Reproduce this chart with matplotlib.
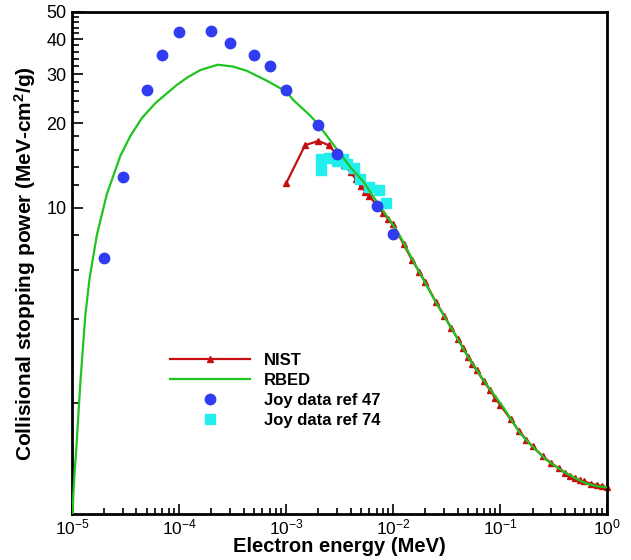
import matplotlib
matplotlib.use("Agg")
import matplotlib.pyplot as plt
from matplotlib.ticker import FixedLocator, NullFormatter, FixedFormatter

plt.rcParams["font.family"] = ["Liberation Sans", "DejaVu Sans"]
plt.rcParams["mathtext.fontset"] = "custom"
plt.rcParams["mathtext.rm"] = "Liberation Sans"
plt.rcParams["mathtext.bf"] = "Liberation Sans:bold"
plt.rcParams["mathtext.it"] = "Liberation Sans:italic"

# RBED model curve (energy in MeV, stopping power in MeV cm^2/g)
rbed_energy = [1.01e-5, 1.03e-5, 1.06e-5, 1.10e-5, 1.15e-5, 1.20e-5, 1.33e-5,
               1.46e-5, 1.71e-5, 2.12e-5, 2.83e-5, 3.5e-5, 4.5e-5, 6e-5, 7.7e-5,
               9.5e-5, 1.2e-4, 1.58e-4, 2.3e-4, 3.2e-4, 4.3e-4, 6.6e-4, 1.0e-3,
               1.17e-3, 1.68e-3, 2.0e-3, 3.0e-3, 4.0e-3, 5.25e-3, 7.5e-3, 8.42e-3,
               1.0e-2, 1.16e-2, 1.72e-2, 2.46e-2, 3.53e-2, 5.04e-2, 7.23e-2, 0.107,
               0.153, 0.2, 0.272, 0.35, 0.419, 0.52, 0.644, 0.8, 1.0]
rbed_power = [0.78, 0.95, 1.15, 1.39, 1.85, 2.40, 4.1,
              5.6, 8.0, 11.2, 15.3, 18.0, 20.9, 23.6, 25.6,
              27.4, 29.2, 31.0, 32.4, 31.9, 30.8, 28.4, 26.0,
              24.2, 21.3, 19.8, 16.1, 13.9, 12.4, 10.1, 9.5,
              8.65, 7.9, 5.95, 4.64, 3.68, 2.91, 2.37, 1.93,
              1.56, 1.40, 1.25, 1.17, 1.12, 1.07, 1.03, 1.01, 1.0]

# NIST tabulated values
nist_energy = [1e-3, 1.5e-3, 2e-3, 2.5e-3, 3e-3, 3.5e-3, 4e-3, 4.5e-3, 5e-3,
               5.5e-3, 6e-3, 7e-3, 8e-3, 9e-3, 1e-2, 1.25e-2, 1.5e-2, 1.75e-2,
               2e-2, 2.5e-2, 3e-2, 3.5e-2, 4e-2, 4.5e-2, 5e-2, 5.5e-2, 6e-2,
               7e-2, 8e-2, 9e-2, 0.1, 0.125, 0.15, 0.175, 0.2, 0.25, 0.3, 0.35,
               0.4, 0.45, 0.5, 0.55, 0.6, 0.7, 0.8, 0.9, 1.0]
nist_power = [12.2, 16.7, 17.3, 16.7, 15.4, 14.2, 13.4, 12.6, 11.9,
              11.4, 11.0, 10.2, 9.6, 9.1, 8.7, 7.4, 6.5, 5.9,
              5.4, 4.6, 4.1, 3.7, 3.4, 3.15, 2.93, 2.76, 2.62,
              2.40, 2.23, 2.08, 1.97, 1.75, 1.59, 1.48, 1.40, 1.29, 1.22, 1.17,
              1.13, 1.10, 1.08, 1.06, 1.05, 1.03, 1.02, 1.01, 1.0]

# Joy data, ref 47
joy47_energy = [2e-5, 3e-5, 5e-5, 7e-5, 1e-4, 2e-4, 3e-4, 5e-4, 7e-4, 1e-3,
                2e-3, 3e-3, 7e-3, 1e-2]
joy47_power = [6.6, 12.9, 26.3, 35.2, 42.5, 42.9, 38.7, 35.2, 32.0, 26.3,
               19.7, 15.6, 10.1, 8.07]

# Joy data, ref 74
joy74_energy = [2.1e-3, 2.1e-3, 2.5e-3, 3.0e-3, 3.4e-3, 3.7e-3, 4.3e-3, 4.9e-3,
                5.9e-3, 7.3e-3, 8.5e-3]
joy74_power = [14.9, 13.6, 15.0, 14.7, 14.9, 14.3, 13.9, 12.7,
               11.8, 11.6, 10.4]

y_major = [10, 20, 30, 40, 50]
y_minor = [2, 4, 6, 8, 12, 14, 16, 18, 22, 24, 26, 28, 32, 34, 36, 38,
           42, 44, 46, 48]
x_major = [1e-5, 1e-4, 1e-3, 1e-2, 1e-1, 1e0]
x_labels = [r"$10^{-5}$", r"$10^{-4}$", r"$10^{-3}$", r"$10^{-2}$",
            r"$10^{-1}$", r"$10^{0}$"]

fig = plt.figure(figsize=(6.31, 5.60), dpi=100)
ax = fig.add_axes([0.1141, 0.0813, 0.8484, 0.8973])

ax.plot(nist_energy, nist_power, color="#c41010", lw=1.6, marker="^",
        ms=4.8, mec="#c41010", label="NIST", zorder=2, clip_on=False)
ax.plot(rbed_energy, rbed_power, color="#1fc41f", lw=1.6, label="RBED",
        zorder=4)
ax.plot(joy47_energy, joy47_power, ls="none", marker="o", ms=7.5,
        color="#2f3cf0", mec="#2f3cf0", label="Joy data ref 47", zorder=5)
ax.plot(joy74_energy, joy74_power, ls="none", marker="s", ms=6.5,
        color="#22eeee", mec="#22eeee", label="Joy data ref 74", zorder=3)

ax.set_xscale("log")
ax.set_yscale("log")
ax.set_xlim(1e-5, 1.0)
ax.set_ylim(0.8, 50)

ax.xaxis.set_major_locator(FixedLocator(x_major))
ax.xaxis.set_major_formatter(FixedFormatter(x_labels))
ax.yaxis.set_major_locator(FixedLocator(y_major))
ax.yaxis.set_major_formatter(FixedFormatter([str(v) for v in y_major]))
ax.yaxis.set_minor_locator(FixedLocator(y_minor))
ax.yaxis.set_minor_formatter(NullFormatter())

ax.tick_params(which="both", direction="in", top=False, right=False,
               width=1.2, labelsize=13)
ax.tick_params(axis="x", which="major", length=7, pad=2, labelsize=12.5)
ax.tick_params(axis="x", which="minor", length=4)
ax.tick_params(axis="y", which="major", length=8, pad=4)
ax.tick_params(axis="y", which="minor", length=5)

for s in ax.spines.values():
    s.set_linewidth(2)

ax.set_xlabel("Electron energy (MeV)", fontsize=14.5, fontweight="bold",
              labelpad=0)
ax.set_ylabel(r"Collisional stopping power (MeV-cm$^\mathbf{2}$/g)",
              fontsize=15, fontweight="bold", labelpad=6)

leg = ax.legend(loc="upper left", bbox_to_anchor=(0.171, 0.335),
                frameon=False, handlelength=4.8,
                handletextpad=0.8, labelspacing=0.3, borderaxespad=0,
                prop={"weight": "bold", "size": 12})

fig.savefig("out.png", dpi=100, facecolor="white")
